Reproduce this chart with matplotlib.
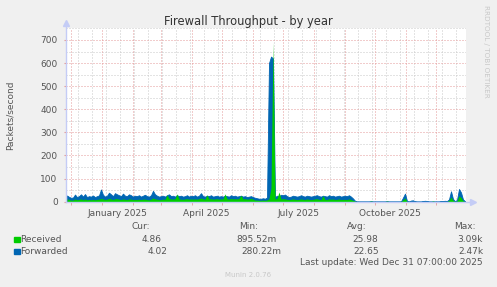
import numpy as np
import pandas as pd
import matplotlib
matplotlib.use('Agg')
import matplotlib.pyplot as plt

# data, one value per 2 days, from 2024-11-27
dates = pd.date_range('2024-11-27 07:00', periods=200, freq='2D')

forwarded = [
    27, 21, 17, 18, 31, 20, 24, 32, 22, 33, 20, 24, 22, 27, 20, 24, 27,
    53,
    30, 22, 26, 39, 32, 24, 37, 32, 28, 24, 35, 26, 24, 32, 28, 22,
    26, 24, 28, 22, 26, 30, 24, 22, 28, 47, 32, 26, 22, 24,
    26, 22, 28, 32, 24, 26, 22, 28, 24, 26, 22, 24, 28, 22, 26,
    24, 28, 22, 26, 37, 24, 22, 26, 24, 28, 22, 24, 26, 22, 24,
    22, 26, 24, 22, 28, 24, 26, 22, 24, 26, 22, 24, 20, 22, 24, 20,
    17, 15, 13, 13, 15, 13, 18,
    600, 628,
    620, 20, 26, 24, 30, 28,
    31, 24, 20, 22, 26, 24, 22, 24, 28, 24, 22, 26, 24, 22,
    24, 26, 28, 24, 22, 26, 24, 22, 28, 24, 26, 22, 24, 26, 22, 24,
    26, 24, 28, 22, 14, 4,
    1, 1, 1, 1, 1, 1, 1, 2, 1, 1, 1, 1, 1, 1, 1, 2, 1, 1, 1, 1, 1, 1, 1,
    18, 35, 3, 1, 5, 6, 2, 1, 1, 1, 3, 4, 3, 1, 1, 1, 1, 1, 1,
    3, 3, 4, 3, 10, 45, 12, 2, 8, 55, 40, 10, 2,
]
received = [
    12, 10, 7, 7, 12, 8, 10, 12, 8, 12, 8, 10, 8, 10, 8, 10, 11,
    14,
    12, 9, 11, 14, 12, 9, 13, 13, 11, 9, 12, 10, 9, 12, 11, 9,
    10, 9, 11, 9, 11, 11, 9, 8, 11, 16, 12, 11, 9, 9,
    11, 10, 30, 14, 12, 11, 13, 34, 12, 11, 10, 12, 13, 11, 12,
    11, 12, 11, 13, 16, 12, 11, 30, 12, 13, 11, 12, 13, 11, 12,
    12, 34, 13, 11, 14, 12, 13, 12, 14, 28, 12, 13, 11, 12, 14, 11,
    7, 7, 6, 6, 7, 6, 8,
    12, 60,
    690, 12, 14, 42, 12, 13,
    12, 10, 9, 10, 12, 10, 9, 10, 12, 10, 9, 12, 10, 9,
    10, 12, 13, 10, 9, 26, 10, 9, 13, 10, 12, 9, 10, 12, 9, 10,
    10, 9, 12, 9, 6, 2,
    0.5, 0.5, 0.5, 0.5, 0.5, 0.5, 0.5, 3, 0.5, 0.5, 0.5, 0.5, 0.5, 0.5, 0.5, 3,
    0.5, 0.5, 0.5, 0.5, 0.5, 0.5, 0.5,
    8, 16, 0.5, 0.5, 0.5, 0.5, 0.5, 0.5, 0.5, 0.5, 0.5, 0.5, 0.5, 0.5, 0.5,
    3, 0.5, 0.5, 0.5, 0.5, 0.5, 0.5, 0.5,
    6, 20, 6, 0.5, 3, 25, 18, 4, 0.5,
]

names = ['Received', 'Forwarded']
colors = ['#00CC00', '#0066B3']
cur = ['4.86', '4.02']
mins = ['895.52m', '280.22m']
avgs = ['25.98', '22.65']
maxs = ['3.09k', '2.47k']

t_start = pd.Timestamp('2024-11-26 07:00')
t_end = pd.Timestamp('2025-12-31 07:00')
month_starts = pd.date_range('2024-12-01', '2025-12-01', freq='MS')
biweekly = pd.date_range('2024-12-08', '2025-12-31', freq='14D')
label_dates = pd.to_datetime(['2025-01-16 12:00', '2025-04-16 00:00',
                              '2025-07-16 12:00', '2025-10-16 12:00'])
label_text = ['January 2025', 'April 2025', 'July 2025', 'October 2025']

W, H = 497, 287
txt = '#555555'
plt.rcParams['font.family'] = ['DejaVu Sans']

fig = plt.figure(figsize=(W / 100, H / 100), dpi=100, facecolor='#F0F0F0')
ax = fig.add_axes([66 / W, (H - 201.7) / H, 400 / W, 173.3 / H])
ax.set_facecolor('white')

# grid, dotted like rrdtool
dots = (0, (1, 2))
for y in range(50, 751, 100):
    ax.axhline(y, color='#C8C8C8', lw=0.72, ls=dots, zorder=1)
for d in biweekly:
    ax.axvline(d, color='#C8C8C8', lw=0.72, ls=dots, zorder=1)
for y in range(100, 701, 100):
    ax.axhline(y, color='#E49A9A', lw=0.72, ls=dots, zorder=1)
for d in month_starts:
    ax.axvline(d, color='#E49A9A', lw=0.72, ls=dots, zorder=1)

# forwarded area first, received over it
ax.fill_between(dates, forwarded, color=colors[1], lw=0.6, edgecolor=colors[1], zorder=2)
ax.fill_between(dates, received, color=colors[0], lw=0, zorder=3)

ax.set_xlim(t_start, t_end)
ax.set_ylim(0, 750)

for s in ax.spines.values():
    s.set_visible(False)
ac = '#C4CCF6'
ax.plot([0, 1.015], [0, 0], color=ac, lw=1, transform=ax.transAxes, clip_on=False, zorder=4)
ax.plot([0, 0], [0, 1.02], color=ac, lw=1, transform=ax.transAxes, clip_on=False, zorder=4)
ax.plot([1.018], [0], marker='>', ms=5, color=ac, mec=ac, transform=ax.transAxes, clip_on=False)
ax.plot([0], [1.03], marker='^', ms=5, color=ac, mec=ac, transform=ax.transAxes, clip_on=False)

ax.set_yticks(range(0, 701, 100))
ax.tick_params(axis='y', length=1.5, color='#E49A9A', pad=4.5, labelsize=6.5, labelcolor=txt)
ax.set_xticks(label_dates)
ax.set_xticklabels(label_text)
ax.tick_params(axis='x', length=0, pad=5, labelsize=6.5, labelcolor=txt)
ax.set_xticks(month_starts, minor=True)
ax.tick_params(axis='x', which='minor', length=2, color='#E49A9A')

def px(x, y):
    return x / W, 1 - y / H

fig.text(*px(248, 21), 'Firewall Throughput - by year', fontsize=8.3, color='#333333',
         ha='center', va='center')
fig.text(*px(10, 115), 'Packets/second', fontsize=6.5, color=txt, rotation=90,
         ha='center', va='center')
fig.text(*px(486, 51), 'RRDTOOL / TOBI OETIKER', fontsize=5.2, color='#C8C8C8',
         rotation=270, ha='center', va='center')

# legend block
head_y = 226.7
for label, xr in [('Cur:', 150), ('Min:', 258), ('Avg:', 367), ('Max:', 476)]:
    fig.text(*px(xr, head_y), label, fontsize=6.5, color=txt, ha='right', va='center')

row_y = [239.3, 251.3]
cur_x = [162, 167]
min_x = [277, 281]
avg_x = [378, 379]
for i in range(2):
    y = row_y[i]
    fig.patches.append(plt.Rectangle(px(14, y + 3), 5.5 / W, 5.5 / H, color=colors[i],
                                     transform=fig.transFigure, figure=fig))
    fig.text(*px(20.5, y), names[i], fontsize=6.5, color=txt, ha='left', va='center')
    fig.text(*px(cur_x[i], y), cur[i], fontsize=6.5, color=txt, ha='right', va='center')
    fig.text(*px(min_x[i], y), mins[i], fontsize=6.5, color=txt, ha='right', va='center')
    fig.text(*px(avg_x[i], y), avgs[i], fontsize=6.5, color=txt, ha='right', va='center')
    fig.text(*px(483, y), maxs[i], fontsize=6.5, color=txt, ha='right', va='center')

fig.text(*px(483, 262.7), 'Last update: Wed Dec 31 07:00:00 2025', fontsize=6.5,
         color=txt, ha='right', va='center')
fig.text(*px(248, 275), 'Munin 2.0.76', fontsize=5, color='#C8C8C8',
         ha='center', va='center')

fig.savefig('out.png', dpi=100, facecolor=fig.get_facecolor())
